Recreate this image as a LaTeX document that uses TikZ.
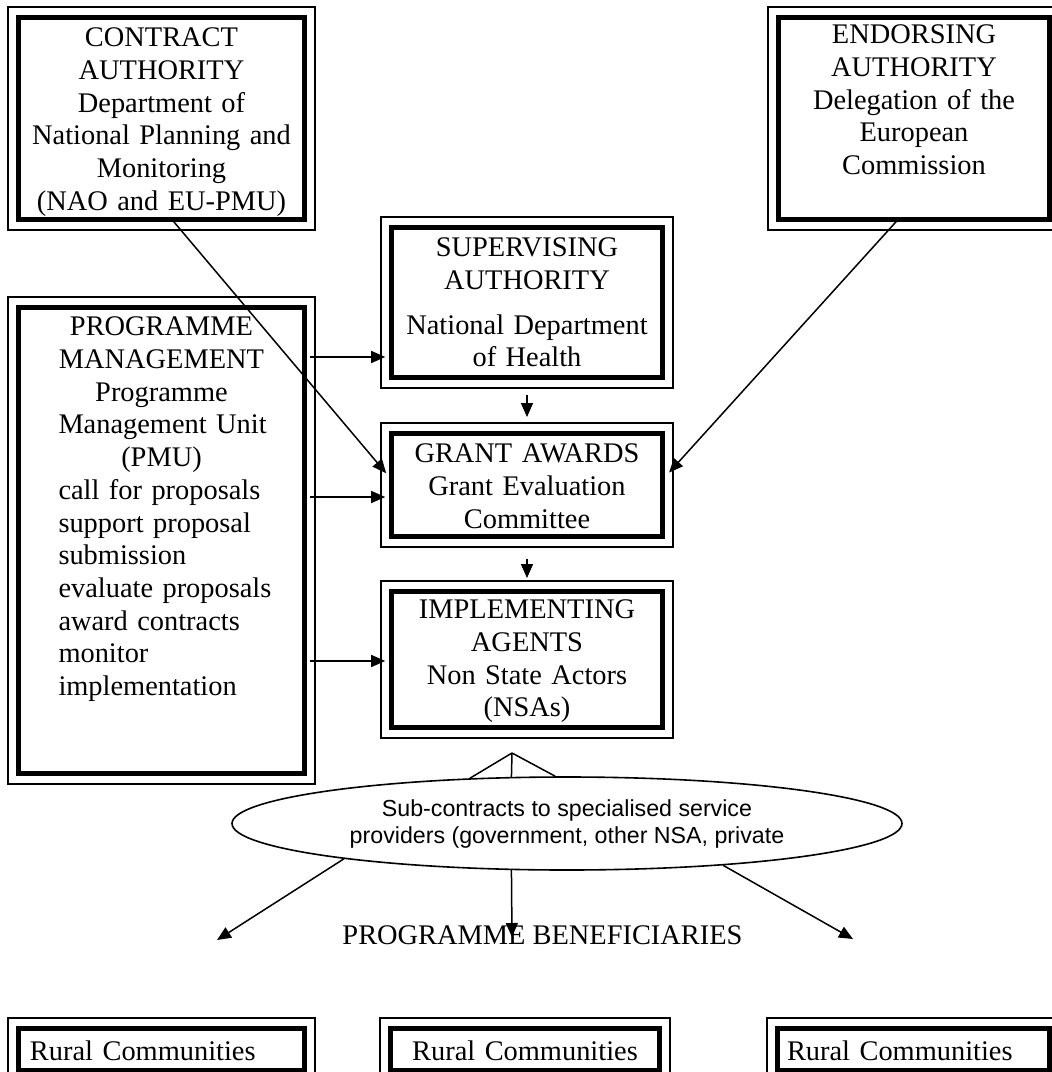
\documentclass[tikz,border=0pt]{standalone}
\usepackage{fontspec}
\setmainfont{Liberation Serif}
\newfontfamily\arialfont{Liberation Sans}
\usetikzlibrary{arrows.meta}
\usetikzlibrary{shapes.geometric}
\tikzset{
    authbox/.style={
        % thin outer frame with a thick frame inside
        draw, line width=0.8pt, inner sep=0pt, anchor=north, align=center,
        text height=20pt,
        path picture={
            \draw[line width=2.6pt]
                ([shift={(5.25pt,-5.25pt)}]path picture bounding box.north west) rectangle
                ([shift={(-5.25pt,5.25pt)}]path picture bounding box.south east);
        },
    },
    link/.style={line width=0.75pt},
}

\begin{document}
\begin{tikzpicture}[x=0.5pt, y=-0.5pt, >={Triangle[length=7pt,width=6pt]},
    font=\fontsize{14.2pt}{16.35pt}\selectfont]
\useasboundingbox (0,0) rectangle (1052,1072);
\clip (0,0) rectangle (1052,1072);

            % Authorities
            \node[authbox, minimum width=153.5pt, text width=145pt, text depth=91.5pt] (contract) at (161.5,6) {CONTRACT\\AUTHORITY\\Department of\\National Planning and\\Monitoring\\(NAO and EU-PMU)};
            \node[authbox, minimum width=146pt, text width=138pt, text depth=93pt, text height=18.5pt] (endorse) at (914,6) {ENDORSING\\AUTHORITY\\Delegation of the\\European\\Commission};

            % Programme management
            \node[authbox, minimum width=153.5pt, text width=103pt, text depth=224pt, text height=19.5pt] (pm) at (161.5,296) {PROGRAMME\\MANAGEMENT\\Programme\\\mbox{Management Unit}\\(PMU)\par
                \raggedright call for proposals\\support proposal\\submission\\\mbox{evaluate proposals}\\award contracts\\monitor\\implementation\par};

            % Middle column
            \node[authbox, minimum width=146pt, text width=138pt, text depth=65.5pt] (superv) at (527,216) {SUPERVISING\\AUTHORITY\\[6pt]National Department\\of Health};
            \node[authbox, minimum width=146pt, text width=138pt, text depth=42pt] (grant) at (527,422) {GRANT AWARDS\\Grant Evaluation\\Committee};
            \node[authbox, minimum width=146pt, text width=138pt, text depth=59.5pt, text height=19pt] (impl) at (527,580) {IMPLEMENTING\\AGENTS\\Non State Actors\\(NSAs)};

            % Sub-contracts
            \node[ellipse, draw, line width=0.8pt, inner sep=0pt, minimum width=335pt, minimum height=46.5pt, align=center,
                font=\arialfont\fontsize{11.6pt}{13.5pt}\selectfont] (sub) at (567,823.5) {Sub-contracts to specialised service\\providers (government, other NSA, private};
            \coordinate (apex) at (512,753);

            % Beneficiaries
            \node[anchor=base] (benef) at (542.5,944) {PROGRAMME BENEFICIARIES};
            \coordinate (lefttip) at (217,940);
            \coordinate (midtip) at (512,937);
            \coordinate (righttip) at (853,939);

            \node[authbox, minimum width=153.5pt, text width=131.5pt, align=left, text height=21.5pt, text depth=10pt] (rural1) at (161.5,1017) {Rural Communities};
            \node[authbox, minimum width=145pt, text width=137pt, text height=21.5pt, text depth=10pt] (rural2) at (525,1017) {Rural Communities};
            \node[authbox, minimum width=146.5pt, text width=126.5pt, align=left, text height=21.5pt, text depth=10pt] (rural3) at (913.5,1017) {Rural Communities};

            % Relationships
            \draw[->, link, shorten <=-3pt, shorten >=-2.5pt] (pm.east |- 0,357) -- (superv.west |- 0,357);
            \draw[->, link, shorten <=-3pt, shorten >=-2.5pt] (pm.east |- 0,497) -- (grant.west |- 0,497);
            \draw[->, link, shorten <=-3pt, shorten >=-2.5pt] (pm.east |- 0,661) -- (impl.west |- 0,661);
            \draw[->, link, shorten <=3pt, shorten >=2.5pt] (superv) -- (grant);
            \draw[->, link, shorten <=5.5pt, shorten >=1pt] (grant) -- (impl);
            \draw[->, link] ([xshift=5.25pt,yshift=5.5pt]contract.south) -- ([xshift=3pt,yshift=5.75pt]grant.west);
            \draw[->, link] ([xshift=-8pt,yshift=5.5pt]endorse.south) -- ([xshift=-2.35pt,yshift=6.15pt]grant.east);

            \draw[link] (apex) -- (sub.155);
            \draw[link] (apex) -- (sub.140);
            \draw[link] (apex) -- (sub.104);
            \draw[->, link] (sub.189) -- (lefttip);
            \draw[->, link] (sub.220) -- (midtip);
            \draw[->, link] (sub.345) -- (righttip);

\end{tikzpicture}
\end{document}
